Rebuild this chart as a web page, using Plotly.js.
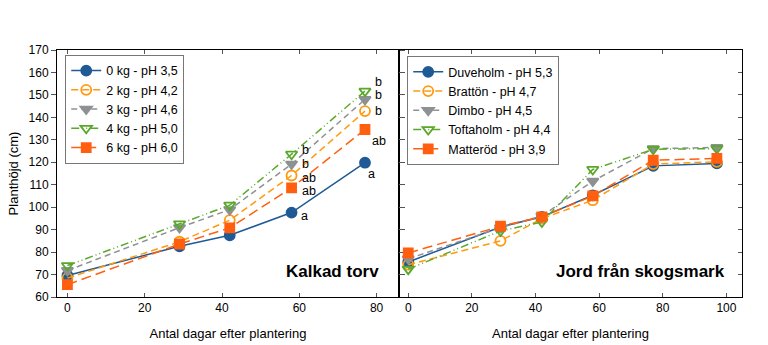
<!DOCTYPE html>
<html><head><meta charset="utf-8">
<script src="https://cdn.plot.ly/plotly-3.0.1.min.js"></script>
<style>body{margin:0;background:#fff}#c{width:768px;height:345px}</style>
</head><body><div id="c"></div>
<script>
// Left panel: Kalkad torv
const daysL = [0, 29, 42, 58, 77];
const namesL = ["0 kg - pH 3,5", "2 kg - pH 4,2", "3 kg - pH 4,6", "4 kg - pH 5,0", "6 kg - pH 6,0"];
const kg0 = [69.6, 82.6, 87.5, 97.6, 119.8];
const kg2 = [68.4, 84.6, 94.2, 114.1, 142.8];
const kg3 = [71.8, 90.9, 98.9, 119.2, 148.0];
const kg4 = [74.0, 92.6, 100.9, 123.6, 151.7];
const kg6 = [65.5, 83.6, 90.8, 108.6, 134.6];
// significance letters at day 58 and day 77
const letters58 = ["a", "ab", "b", "b", "ab"];
const letters77 = ["a", "b", "b", "b", "ab"];

// Right panel: Jord från skogsmark
const daysR = [0, 29, 42, 58, 77, 97];
const namesR = ["Duveholm - pH 5,3", "Brattön - pH 4,7", "Dimbo - pH 4,5", "Toftaholm - pH 4,4", "Matteröd - pH 3,9"];
const duveholm = [75.6, 91.2, 95.7, 105.3, 118.4, 119.5];
const bratton = [74.4, 85.0, 94.9, 103.1, 119.2, 120.2];
const dimbo = [77.0, 90.9, 96.1, 111.6, 126.1, 126.6];
const toftaholm = [72.4, 89.4, 93.4, 116.8, 125.8, 126.1];
const matterod = [79.6, 91.5, 95.7, 105.0, 120.9, 121.7];

const xTitle = "Antal dagar efter plantering";
const yTitle = "Planthöjd (cm)";
const panelL = "Kalkad torv";
const panelR = "Jord från skogsmark";

const colors = ["#1f5a96", "#ff9a10", "#8e9194", "#5aa82a", "#ff5f0f"];
const dashes = ["solid", "7px,4px", "6px,4px", "8px,3px,1px,3px,1px,3px", "10px,5px"];
const symbols = ["circle", "circle-open", "triangle-down", "triangle-down-open", "square"];
const msizes = [10, 10, 10, 10, 9];

const FONT = "Liberation Sans, Arial, sans-serif";
const seriesL = [kg0, kg2, kg3, kg4, kg6];
const seriesR = [duveholm, bratton, dimbo, toftaholm, matterod];

function mk(x, y, i, name, xa, ya, leg) {
  return {
    x: x, y: y, name: name, xaxis: xa, yaxis: ya, legend: leg,
    type: "scatter", mode: "lines+markers",
    line: {color: colors[i], width: 1.5, dash: dashes[i]},
    marker: {symbol: symbols[i], size: msizes[i], color: colors[i],
             line: {color: colors[i], width: 1.8}}
  };
}
const traces = [];
seriesL.forEach((s, i) => traces.push(mk(daysL, s, i, namesL[i], "x", "y", "legend")));
seriesR.forEach((s, i) => traces.push(mk(daysR, s, i, namesR[i], "x2", "y2", "legend2")));

// letter offsets (style only)
const off58 = [[8, -3], [9, -2], [9, 0], [9, 4], [9, -3]];
const off77 = [[2, -11], [9, 0], [9, 4], [9, 9], [6, -12]];
const annotations = [];
seriesL.forEach((s, i) => {
  annotations.push({x: daysL[3], y: s[3], xref: "x", yref: "y", text: letters58[i], showarrow: false,
    xanchor: "left", yanchor: "middle", xshift: off58[i][0], yshift: off58[i][1], borderpad: 0,
    font: {family: FONT, size: 12.5, color: "#000"}});
  annotations.push({x: daysL[4], y: s[4], xref: "x", yref: "y", text: letters77[i], showarrow: false,
    xanchor: "left", yanchor: "middle", xshift: off77[i][0], yshift: off77[i][1], borderpad: 0,
    font: {family: FONT, size: 12.5, color: "#000"}});
});
annotations.push({x: 0.948, y: 0.105, xref: "x domain", yref: "y domain", text: "<b>" + panelL + "</b>",
  showarrow: false, xanchor: "right", yanchor: "middle", font: {family: FONT, size: 17, color: "#000"}});
annotations.push({x: 0.955, y: 0.105, xref: "x2 domain", yref: "y2 domain", text: "<b>" + panelR + "</b>",
  showarrow: false, xanchor: "right", yanchor: "middle", font: {family: FONT, size: 17, color: "#000"}});

const axBase = {showgrid: false, zeroline: false, showline: true, linecolor: "#000", linewidth: 1,
  mirror: "ticks", ticks: "inside", ticklen: 4, tickcolor: "#555",
  tickfont: {family: FONT, size: 12, color: "#000"}};

const split = (399 - 57) / 685;
const layout = {
  width: 768, height: 345,
  margin: {l: 57, r: 26, t: 50, b: 48},
  paper_bgcolor: "#fff", plot_bgcolor: "#fff",
  showlegend: true,
  font: {family: FONT, color: "#000"},
  xaxis: Object.assign({}, axBase, {domain: [0, split], range: [-2.7, 85.8], tickvals: [0, 20, 40, 60, 80],
    title: {text: xTitle, font: {family: FONT, size: 13}, standoff: 14}, anchor: "y"}),
  yaxis: Object.assign({}, axBase, {range: [60, 170], dtick: 10, ticks: "outside", ticklen: 5,
    title: {text: yTitle, font: {family: FONT, size: 13}, standoff: 7}, anchor: "x"}),
  xaxis2: Object.assign({}, axBase, {domain: [split, 1], range: [-2.9, 104.9], tickvals: [0, 20, 40, 60, 80, 100],
    title: {text: xTitle, font: {family: FONT, size: 13}, standoff: 14}, anchor: "y2"}),
  yaxis2: Object.assign({}, axBase, {range: [60, 170], dtick: 10, showticklabels: false, anchor: "x2"}),
  legend: {x: 0.012, y: 0.98, xanchor: "left", yanchor: "top", bgcolor: "#fff",
    bordercolor: "#777", borderwidth: 1, font: {family: FONT, size: 12.5}, tracegroupgap: 0, itemwidth: 30},
  legend2: {x: split + 0.012, y: 0.975, xanchor: "left", yanchor: "top", bgcolor: "#fff",
    bordercolor: "#777", borderwidth: 1, font: {family: FONT, size: 12.5}, tracegroupgap: 0, itemwidth: 30},
  annotations: annotations
};
Plotly.newPlot("c", traces, layout, {displayModeBar: false, staticPlot: true});
</script></body></html>
